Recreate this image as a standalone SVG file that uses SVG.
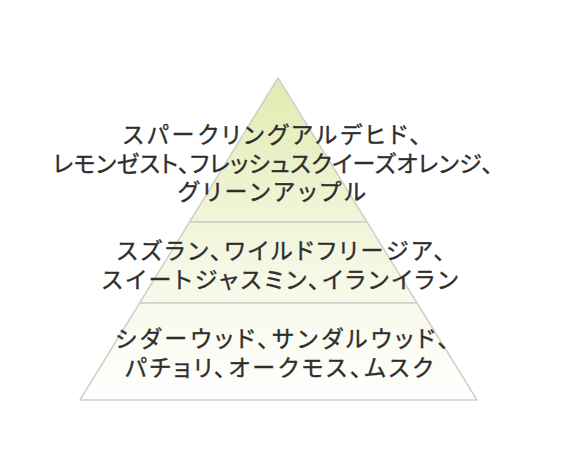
<svg xmlns="http://www.w3.org/2000/svg" width="573" height="464" viewBox="0 0 573 464">
  <style>
    .tier { fill: url(#pg); stroke: #cfd0c8; stroke-width: 1.5; stroke-linejoin: round; }
    .lbl { font-family: "Noto Sans CJK JP", "Noto Sans", sans-serif; font-size: 23px; fill: #2e2e2e; stroke: #2e2e2e; stroke-width: 0.35; font-feature-settings: "palt"; }
  </style>
  <defs>
    <linearGradient id="pg" gradientUnits="userSpaceOnUse" x1="0" y1="78" x2="0" y2="400">
      <stop offset="0" stop-color="#e2ebb0"/>
      <stop offset="0.45" stop-color="#f1f5da"/>
      <stop offset="1" stop-color="#ffffff"/>
    </linearGradient>
  </defs>
  <rect width="573" height="464" fill="#ffffff"/>
  <g id="tier-top">
    <polygon class="tier" points="278,78 367,222 189.5,222"/>
    <text class="lbl" x="123" y="143" textLength="298" lengthAdjust="spacing">スパークリングアルデヒド、</text>
    <text class="lbl" x="53" y="172" textLength="440" lengthAdjust="spacing">レモンゼスト、フレッシュスクイーズオレンジ、</text>
    <text class="lbl" x="178" y="200" textLength="188" lengthAdjust="spacing">グリーンアップル</text>
  </g>
  <g id="tier-middle">
    <polygon class="tier" points="189.5,222 367,222 417,303 139.6,303"/>
    <text class="lbl" x="117" y="259" textLength="328" lengthAdjust="spacing">スズラン、ワイルドフリージア、</text>
    <text class="lbl" x="102" y="288" textLength="356" lengthAdjust="spacing">スイートジャスミン、イランイラン</text>
  </g>
  <g id="tier-bottom">
    <polygon class="tier" points="139.6,303 417,303 477,400 80,400"/>
    <text class="lbl" x="115" y="347" textLength="334" lengthAdjust="spacing">シダーウッド、サンダルウッド、</text>
    <text class="lbl" x="125" y="376" textLength="308" lengthAdjust="spacing">パチョリ、オークモス、ムスク</text>
  </g>
  <g id="connectors"></g>
</svg>
